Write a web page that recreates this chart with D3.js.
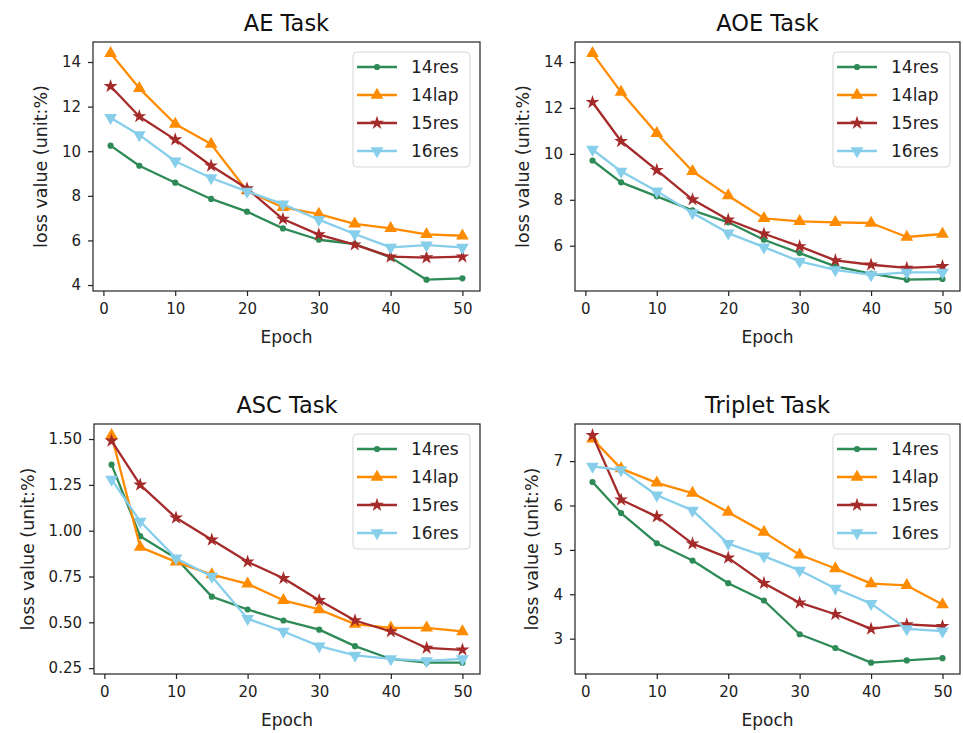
<!DOCTYPE html>
<html>
<head>
<meta charset="utf-8">
<script src="https://cdn.jsdelivr.net/npm/d3@7"></script>
<style>
    body { margin: 0; background: #fff; }
    svg { font-family: "DejaVu Sans", sans-serif; }
</style>
</head>
<body>
<svg id="chart" width="963" height="733"></svg>
<script>
const epochs = [1, 5, 10, 15, 20, 25, 30, 35, 40, 45, 50];
const seriesNames = ["14res", "14lap", "15res", "16res"];

const ae14res = [10.25, 9.35, 8.59, 7.86, 7.29, 6.54, 6.03, 5.84, 5.24, 4.24, 4.30];
const ae14lap = [14.39, 12.82, 11.22, 10.32, 8.23, 7.48, 7.18, 6.74, 6.54, 6.27, 6.21];
const ae15res = [12.91, 11.56, 10.52, 9.35, 8.33, 6.96, 6.26, 5.81, 5.27, 5.23, 5.27];
const ae16res = [11.50, 10.73, 9.55, 8.80, 8.20, 7.63, 6.93, 6.29, 5.69, 5.79, 5.69];

const aoe14res = [9.71, 8.76, 8.15, 7.54, 7.02, 6.26, 5.68, 5.10, 4.78, 4.52, 4.55];
const aoe14lap = [14.38, 12.69, 10.89, 9.24, 8.18, 7.19, 7.06, 7.02, 6.99, 6.38, 6.51];
const aoe15res = [12.25, 10.55, 9.29, 8.01, 7.13, 6.52, 5.97, 5.36, 5.17, 5.03, 5.10];
const aoe16res = [10.19, 9.24, 8.37, 7.43, 6.55, 5.94, 5.32, 4.95, 4.73, 4.84, 4.84];

const asc14res = [1.36, 0.97, 0.85, 0.64, 0.57, 0.51, 0.46, 0.37, 0.30, 0.28, 0.28];
const asc14lap = [1.52, 0.91, 0.83, 0.76, 0.71, 0.62, 0.57, 0.49, 0.47, 0.47, 0.45];
const asc15res = [1.49, 1.25, 1.07, 0.95, 0.83, 0.74, 0.62, 0.51, 0.45, 0.36, 0.35];
const asc16res = [1.28, 1.05, 0.85, 0.75, 0.52, 0.45, 0.37, 0.32, 0.30, 0.29, 0.30];

const tri14res = [6.53, 5.83, 5.15, 4.76, 4.25, 3.86, 3.10, 2.79, 2.46, 2.51, 2.56];
const tri14lap = [7.50, 6.83, 6.51, 6.28, 5.85, 5.40, 4.89, 4.58, 4.24, 4.20, 3.77];
const tri15res = [7.58, 6.13, 5.75, 5.14, 4.82, 4.25, 3.81, 3.55, 3.22, 3.32, 3.28];
const tri16res = [6.88, 6.80, 6.23, 5.89, 5.14, 4.86, 4.54, 4.13, 3.79, 3.22, 3.17];

const xTicks = [0, 10, 20, 30, 40, 50];
const aeTicks = [4, 6, 8, 10, 12, 14];
const aoeTicks = [6, 8, 10, 12, 14];
const ascTicks = [0.25, 0.50, 0.75, 1.00, 1.25, 1.50];
const triTicks = [3, 4, 5, 6, 7];

const colors = ["#2e8b57", "#ff8c00", "#a52a2a", "#87ceeb"];
const markers = [
    { type: d3.symbolCircle, size: 30, rot: 0 },
    { type: d3.symbolTriangle, size: 70, rot: 0 },
    { type: d3.symbolStar, size: 60, rot: 0 },
    { type: d3.symbolTriangle, size: 70, rot: 180 }
];

const panels = [
    { title: "AE Task", left: 93, top: 42, right: 480, bottom: 291, ticks: aeTicks, fmt: d3.format("d"), series: [ae14res, ae14lap, ae15res, ae16res] },
    { title: "AOE Task", left: 575, top: 42, right: 960, bottom: 291, ticks: aoeTicks, fmt: d3.format("d"), series: [aoe14res, aoe14lap, aoe15res, aoe16res] },
    { title: "ASC Task", left: 94, top: 424, right: 480, bottom: 674, ticks: ascTicks, fmt: d3.format(".2f"), series: [asc14res, asc14lap, asc15res, asc16res] },
    { title: "Triplet Task", left: 575, top: 424, right: 960, bottom: 674, ticks: triTicks, fmt: d3.format("d"), series: [tri14res, tri14lap, tri15res, tri16res] }
];

const svg = d3.select("#chart");

panels.forEach(p => {
    let w = p.right - p.left,
        h = p.bottom - p.top;

    let g = svg.append("g").attr("transform", `translate(${p.left},${p.top})`);

    // matplotlib style 5% margins
    let xPad = (d3.max(epochs) - d3.min(epochs)) * 0.05;
    let x = d3.scaleLinear()
        .domain([d3.min(epochs) - xPad, d3.max(epochs) + xPad])
        .range([0, w]);

    let all = p.series.flat();
    let yPad = (d3.max(all) - d3.min(all)) * 0.05;
    let y = d3.scaleLinear()
        .domain([d3.min(all) - yPad, d3.max(all) + yPad])
        .range([h, 0]);

    let xAxis = g.append("g")
        .attr("transform", `translate(0,${h})`)
        .call(d3.axisBottom(x).tickValues(xTicks).tickSize(5).tickPadding(7).tickFormat(d3.format("d")));

    let yAxis = g.append("g")
        .call(d3.axisLeft(y).tickValues(p.ticks).tickSize(5).tickPadding(7).tickFormat(p.fmt));

    [xAxis, yAxis].forEach(a => {
        a.select(".domain").remove();
        a.selectAll("line").attr("stroke", "#222").attr("stroke-width", 1.2);
        a.selectAll("text").attr("fill", "#222").style("font-size", "15px").style("font-family", "DejaVu Sans, sans-serif");
    });

    let line = d3.line()
        .x((d, i) => x(epochs[i]))
        .y(d => y(d));

    p.series.forEach((vals, k) => {
        let sg = g.append("g");
        sg.append("path")
            .datum(vals)
            .attr("d", line)
            .attr("fill", "none")
            .attr("stroke", colors[k])
            .attr("stroke-width", 2.3)
            .attr("stroke-linejoin", "round");

        sg.selectAll("path.mk")
            .data(vals)
            .enter()
            .append("path")
            .attr("class", "mk")
            .attr("d", d3.symbol().type(markers[k].type).size(markers[k].size))
            .attr("transform", (d, i) => `translate(${x(epochs[i])},${y(d)}) rotate(${markers[k].rot})`)
            .attr("fill", colors[k]);
    });

    // frame
    g.append("rect")
        .attr("width", w)
        .attr("height", h)
        .attr("fill", "none")
        .attr("stroke", "#222")
        .attr("stroke-width", 1.2);

    // legend
    let lg = g.append("g").attr("transform", `translate(${w - 10 - 117},10)`);
    lg.append("rect")
        .attr("width", 117)
        .attr("height", 115)
        .attr("rx", 4)
        .attr("fill", "#fff")
        .attr("fill-opacity", 0.8)
        .attr("stroke", "#d6d6d6");

    let item = lg.selectAll("g.item")
        .data(seriesNames)
        .enter()
        .append("g")
        .attr("class", "item")
        .attr("transform", (d, i) => `translate(0,${15 + i * 28})`);

    item.append("line")
        .attr("x1", 4).attr("x2", 44)
        .attr("stroke", (d, i) => colors[i])
        .attr("stroke-width", 2.3);

    item.append("path")
        .attr("d", (d, i) => d3.symbol().type(markers[i].type).size(markers[i].size)())
        .attr("transform", (d, i) => `translate(24,0) rotate(${markers[i].rot})`)
        .attr("fill", (d, i) => colors[i]);

    item.append("text")
        .attr("x", 58)
        .attr("dy", "0.36em")
        .attr("fill", "#222")
        .style("font-size", "17px")
        .text(d => d);

    // titles and labels
    g.append("text")
        .attr("x", w / 2)
        .attr("y", -11)
        .attr("text-anchor", "middle")
        .attr("fill", "#111")
        .style("font-size", "22.5px")
        .text(p.title);

    g.append("text")
        .attr("x", w / 2)
        .attr("y", h + 52)
        .attr("text-anchor", "middle")
        .attr("fill", "#222")
        .style("font-size", "17px")
        .text("Epoch");

    let bb = yAxis.node().getBBox();
    g.append("text")
        .attr("transform", `translate(${bb.x - 15},${h / 2}) rotate(-90)`)
        .attr("text-anchor", "middle")
        .attr("fill", "#222")
        .style("font-size", "17.5px")
        .text("loss value (unit:%)");
});
</script>
</body>
</html>
